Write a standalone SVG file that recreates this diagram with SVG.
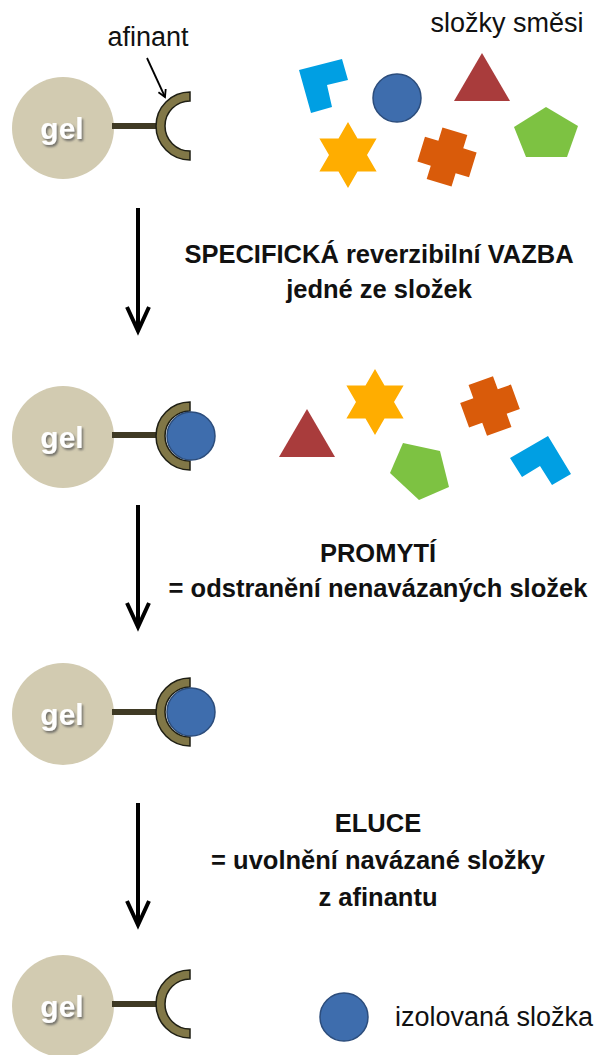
<svg xmlns="http://www.w3.org/2000/svg" width="601" height="1055" viewBox="0 0 601 1055">
<style>
.gel{fill:#D2CBB1}
.gt{font-family:"Liberation Sans",Arial,sans-serif;font-weight:bold;font-size:30px;fill:#fff;text-anchor:middle}
.rod{stroke:#3F3A24;stroke-width:6}
.cup{fill:#817747;stroke:#1f1f14;stroke-width:1.5}
.ball{fill:#3E6DAD;stroke:#2C4D7C;stroke-width:1.5}
.lbl{font-family:"Liberation Sans",Arial,sans-serif;font-size:27px;fill:#111}
.bt{font-family:"Liberation Sans",Arial,sans-serif;font-weight:bold;font-size:25.5px;fill:#111;text-anchor:middle}
.arr{stroke:#000;stroke-width:4;fill:none}
.tri{fill:#A93C3C}
.pent{fill:#7DC242}
.star{fill:#FFAD00}
.crs{fill:#D95B0A}
.ell{fill:#009FE3}
</style>
<defs>
<filter id="sh" x="-20%" y="-20%" width="140%" height="160%">
<feDropShadow dx="1.5" dy="2" stdDeviation="1" flood-color="#555" flood-opacity="0.8"/>
</filter>
<marker id="ah" markerWidth="10" markerHeight="10" refX="8" refY="5" orient="auto" markerUnits="userSpaceOnUse">
<path d="M1,1 L8,5 L1,9" fill="none" stroke="#000" stroke-width="1.8"/>
</marker>
<path id="cupP" d="M0,-34 A34,34 0 0 0 0,34 L0,25 A25,25 0 0 1 0,-25 Z"/>
<polygon id="starP" points="0,-33 9.5,-16.5 28.6,-16.5 19,0 28.6,16.5 9.5,16.5 0,33 -9.5,16.5 -28.6,16.5 -19,0 -28.6,-16.5 -9.5,-16.5"/>
<path id="crossP" d="M-13,-27 L13,-27 L13,-13 L27,-13 L27,13 L13,13 L13,27 L-13,27 L-13,13 L-27,13 L-27,-13 L-13,-13 Z"/>
</defs>

<g id="connectors">
<path class="arr" d="M138,208 V330 M127,307 L138,331 L149,307"/>
<path class="arr" d="M138,505 V626 M127,603 L138,627 L149,603"/>
<path class="arr" d="M138,803 V924 M127,901 L138,925 L149,901"/>
<path d="M147,58 L165,97" stroke="#000" stroke-width="1.8" marker-end="url(#ah)"/>
</g>

<g id="row1">
<g id="gel1"><circle class="gel" cx="63" cy="128" r="51"/><text class="gt" x="62" y="139" filter="url(#sh)">gel</text></g>
<line class="rod" x1="112" y1="126" x2="160" y2="126"/>
<use href="#cupP" class="cup" x="190" y="126"/>
</g>
<g id="label-afinant"><text class="lbl" x="148" y="46" text-anchor="middle">afinant</text></g>
<g id="label-slozky"><text class="lbl" x="507" y="32" text-anchor="middle">složky směsi</text></g>

<g id="mix1">
<polygon class="ell" points="299,70 342,59 348,80 327,85 332,107 311,113"/>
<circle class="ball" cx="397" cy="98" r="24"/>
<polygon class="tri" points="482,53 454,101 510,101"/>
<polygon class="pent" points="546,107 578,126 567,157 526,157 514,127"/>
<use href="#starP" class="star" transform="translate(348,155)"/>
<use href="#crossP" class="crs" transform="translate(447,157) rotate(17)"/>
</g>

<g id="step1"><text class="bt" x="379" y="263">SPECIFICKÁ reverzibilní VAZBA</text><text class="bt" x="379" y="298">jedné ze složek</text></g>

<g id="row2">
<g id="gel2"><circle class="gel" cx="63" cy="437" r="51"/><text class="gt" x="62" y="448" filter="url(#sh)">gel</text></g>
<line class="rod" x1="112" y1="435" x2="160" y2="435"/>
<use href="#cupP" class="cup" x="190" y="436"/>
<circle class="ball" cx="191" cy="436" r="24"/>
</g>

<g id="mix2">
<polygon class="tri" points="307,409 279,457 335,457"/>
<use href="#starP" class="star" transform="translate(375,402)"/>
<use href="#crossP" class="crs" transform="translate(490,406) rotate(-20)"/>
<polygon class="pent" points="403,443 440,451 449,487 419,500 390,473"/>
<polygon class="ell" points="510,458 548,436 571,474 552,485 540,466 522,477"/>
</g>

<g id="step2"><text class="bt" x="378" y="562">PROMYTÍ</text><text class="bt" x="378" y="597">= odstranění nenavázaných složek</text></g>

<g id="row3">
<g id="gel3"><circle class="gel" cx="63" cy="714" r="51"/><text class="gt" x="62" y="725" filter="url(#sh)">gel</text></g>
<line class="rod" x1="112" y1="712" x2="160" y2="712"/>
<use href="#cupP" class="cup" x="190" y="712"/>
<circle class="ball" cx="191" cy="712" r="24"/>
</g>

<g id="step3"><text class="bt" x="378" y="832">ELUCE</text><text class="bt" x="378" y="869">= uvolnění navázané složky</text><text class="bt" x="378" y="906">z afinantu</text></g>

<g id="row4">
<g id="gel4"><circle class="gel" cx="63" cy="1006" r="51"/><text class="gt" x="62" y="1017" filter="url(#sh)">gel</text></g>
<line class="rod" x1="112" y1="1004" x2="160" y2="1004"/>
<use href="#cupP" class="cup" x="190" y="1004"/>
</g>

<g id="legend">
<circle class="ball" cx="344" cy="1017" r="24"/>
<text class="lbl" x="395" y="1026">izolovaná složka</text>
</g>
</svg>
